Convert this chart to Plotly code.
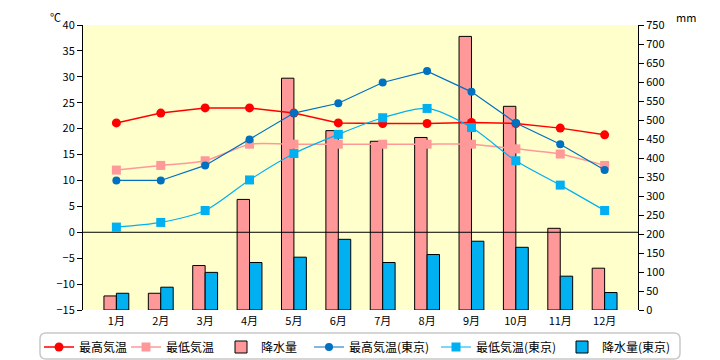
import plotly.graph_objects as go

months = ["1月", "2月", "3月", "4月", "5月", "6月", "7月", "8月", "9月", "10月", "11月", "12月"]

max_temp = [21.1, 23.0, 24.0, 24.0, 23.0, 21.1, 21.0, 21.0, 21.2, 21.0, 20.1, 18.8]
min_temp = [12.0, 12.9, 13.8, 17.0, 17.0, 17.0, 17.0, 17.0, 17.0, 16.1, 15.1, 12.9]
precip = [37, 44, 117, 291, 610, 472, 444, 454, 720, 536, 215, 110]

tokyo_max = [10.0, 10.0, 12.9, 17.9, 23.0, 24.9, 28.9, 31.1, 27.1, 21.1, 17.0, 12.0]
tokyo_min = [1.0, 1.9, 4.2, 10.1, 15.2, 18.9, 22.1, 23.9, 20.2, 13.8, 9.1, 4.2]
tokyo_precip = [44, 60, 99, 125, 139, 186, 125, 146, 181, 165, 89, 46]

names = ["最高気温", "最低気温", "降水量", "最高気温(東京)", "最低気温(東京)", "降水量(東京)"]

RED = "#FF0000"
PINK = "#FF9999"
BLUE = "#0070C0"
CYAN = "#00B0F0"

FONT = "Noto Sans CJK JP"

# page body has an 8px margin; figure is sized so it fills the 720x360 window
OFF = 8
W, H = 720 - OFF, 360 - OFF

fig = go.Figure()

fig.add_trace(go.Scatter(x=months, y=max_temp, name=names[0], yaxis="y2", legend="legend",
                         mode="lines+markers", line=dict(color=RED, width=1.5),
                         marker=dict(symbol="circle", size=9, color=RED)))
fig.add_trace(go.Scatter(x=months, y=min_temp, name=names[1], yaxis="y2", legend="legend2",
                         mode="lines+markers", line=dict(color=PINK, width=1.5, shape="spline", smoothing=0.6),
                         marker=dict(symbol="square", size=9, color=PINK)))
fig.add_trace(go.Bar(x=months, y=precip, name=names[2], yaxis="y", legend="legend3",
                     marker=dict(color=PINK, line=dict(color="black", width=1))))
fig.add_trace(go.Scatter(x=months, y=tokyo_max, name=names[3], yaxis="y2", legend="legend4",
                         mode="lines+markers", line=dict(color=BLUE, width=1.2),
                         marker=dict(symbol="circle", size=8, color=BLUE)))
fig.add_trace(go.Scatter(x=months, y=tokyo_min, name=names[4], yaxis="y2", legend="legend5",
                         mode="lines+markers", line=dict(color=CYAN, width=1.2, shape="spline", smoothing=0.8),
                         marker=dict(symbol="square", size=9, color=CYAN)))
fig.add_trace(go.Bar(x=months, y=tokyo_precip, name=names[5], yaxis="y", legend="legend6",
                     marker=dict(color=CYAN, line=dict(color="black", width=1))))

# legend item left positions (screen px)
legend_left = [50, 137, 232, 320, 447, 573]
legend_mid_y = 347

def legend_cfg(sx):
    return dict(orientation="h", xref="container", yref="container",
                x=(sx - OFF - 11) / W, xanchor="left",
                y=1 - (legend_mid_y - OFF) / H, yanchor="middle",
                font=dict(size=12, family=FONT), bgcolor="rgba(0,0,0,0)",
                itemwidth=30)

legends = {("legend" if i == 0 else f"legend{i+1}"): legend_cfg(sx)
           for i, sx in enumerate(legend_left)}

# rounded legend frame (decoration), paper coords of plot area
L, R, T, B = -0.0775, 1.0757, -0.0807, -0.1719
rx, ry = 0.0108, 0.021
path = (f"M {L+rx},{T} L {R-rx},{T} Q {R},{T} {R},{T-ry} L {R},{B+ry} Q {R},{B} {R-rx},{B} "
        f"L {L+rx},{B} Q {L},{B} {L},{B+ry} L {L},{T-ry} Q {L},{T} {L+rx},{T} Z")

top_paper = (310 - OFF) / 285  # top edge of the figure in paper units

fig.update_layout(
    width=W, height=H,
    margin=dict(l=83 - OFF, r=W - (638 - OFF), t=25 - OFF, b=H - (310 - OFF), autoexpand=False),
    paper_bgcolor="white",
    plot_bgcolor="#FFFFCC",
    font=dict(family=FONT, size=11, color="black"),
    barmode="group", bargap=0.44, bargroupgap=0,
    showlegend=True,
    xaxis=dict(type="category", showline=False, ticks="", showgrid=False,
               tickfont=dict(size=11), ticklabelstandoff=3),
    yaxis=dict(range=[0, 750], dtick=50, side="right", showgrid=False, zeroline=False,
               showline=True, linecolor="black", linewidth=1, ticks="outside",
               ticklen=5, tickcolor="black", tickfont=dict(size=11)),
    yaxis2=dict(range=[-15, 40], dtick=5, side="left", overlaying="y", showgrid=False,
                zeroline=False, showline=True, linecolor="black", linewidth=1,
                ticks="outside", ticklen=5, tickcolor="black", tickfont=dict(size=11)),
    shapes=[
        dict(type="line", xref="paper", x0=0, x1=1, yref="y2", y0=0, y1=0,
             line=dict(color="black", width=1), layer="above"),
        dict(type="path", xref="paper", yref="paper", path=path,
             line=dict(color="#C8C8C8", width=1.5), fillcolor="rgba(0,0,0,0)", layer="above"),
    ],
    annotations=[
        dict(text="℃", xref="paper", yref="paper", x=(55 - 83) / 555, y=top_paper,
             showarrow=False, font=dict(size=11), xanchor="center", yanchor="top",
             borderpad=0),
        dict(text="mm", xref="paper", yref="paper", x=(686 - 83) / 555, y=top_paper,
             showarrow=False, font=dict(size=11), xanchor="center", yanchor="top",
             borderpad=0),
    ],
    **legends,
)

fig.write_html("out.html")
